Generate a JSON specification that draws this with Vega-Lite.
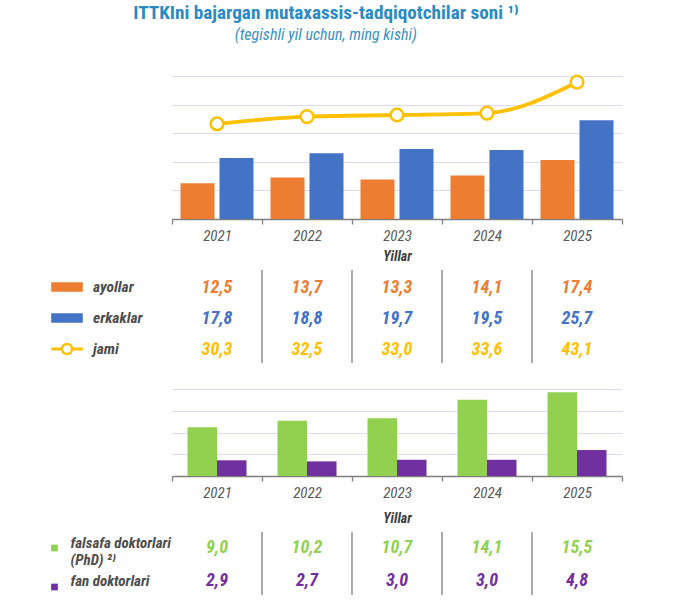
{
  "$schema": "https://vega.github.io/schema/vega-lite/v6.json",
  "padding": {"left": 45, "top": 3, "right": 10, "bottom": 5},
  "title": {
    "text": "ITTKIni bajargan mutaxassis-tadqiqotchilar soni ¹⁾",
    "subtitle": "(tegishli yil uchun, ming kishi)",
    "anchor": "middle",
    "dx": -8,
    "fontSize": 19.2,
    "fontWeight": "bold",
    "color": "#2A8AC6",
    "subtitleFontSize": 16,
    "subtitleFontStyle": "italic",
    "subtitleColor": "#3A8FC8",
    "subtitlePadding": 4,
    "offset": 28
  },
  "datasets": {
    "main": [
      {"year": "2021", "series": "ayollar", "value": 12.5},
      {"year": "2022", "series": "ayollar", "value": 13.7},
      {"year": "2023", "series": "ayollar", "value": 13.3},
      {"year": "2024", "series": "ayollar", "value": 14.1},
      {"year": "2025", "series": "ayollar", "value": 17.4},
      {"year": "2021", "series": "erkaklar", "value": 17.8},
      {"year": "2022", "series": "erkaklar", "value": 18.8},
      {"year": "2023", "series": "erkaklar", "value": 19.7},
      {"year": "2024", "series": "erkaklar", "value": 19.5},
      {"year": "2025", "series": "erkaklar", "value": 25.7},
      {"year": "2021", "series": "jami", "value": 30.3},
      {"year": "2022", "series": "jami", "value": 32.5},
      {"year": "2023", "series": "jami", "value": 33.0},
      {"year": "2024", "series": "jami", "value": 33.6},
      {"year": "2025", "series": "jami", "value": 43.1}
    ],
    "phd": [
      {"year": "2021", "series": "falsafa doktorlari\n(PhD) ²⁾", "value": 9.0},
      {"year": "2022", "series": "falsafa doktorlari\n(PhD) ²⁾", "value": 10.2},
      {"year": "2023", "series": "falsafa doktorlari\n(PhD) ²⁾", "value": 10.7},
      {"year": "2024", "series": "falsafa doktorlari\n(PhD) ²⁾", "value": 14.1},
      {"year": "2025", "series": "falsafa doktorlari\n(PhD) ²⁾", "value": 15.5},
      {"year": "2021", "series": "fan doktorlari", "value": 2.9},
      {"year": "2022", "series": "fan doktorlari", "value": 2.7},
      {"year": "2023", "series": "fan doktorlari", "value": 3.0},
      {"year": "2024", "series": "fan doktorlari", "value": 3.0},
      {"year": "2025", "series": "fan doktorlari", "value": 4.8}
    ]
  },
  "columns": 2,
  "align": "each",
  "spacing": {"row": 6, "column": 0},
  "resolve": {
    "scale": {"x": "independent", "y": "independent", "color": "independent", "xOffset": "independent"},
    "legend": {"color": "independent"}
  },
  "concat": [
    {
      "width": 1, "height": 1,
      "data": {"values": []},
      "mark": "point"
    },
    {
      "width": 450, "height": 143,
      "data": {"name": "main"},
      "encoding": {
        "x": {
          "field": "year", "type": "nominal",
          "scale": {"paddingInner": 0, "paddingOuter": 0},
          "axis": {"title": "Yillar", "labelAngle": 0, "tickBand": "extent", "grid": false}
        }
      },
      "layer": [
        {
          "transform": [{"filter": "datum.series != 'jami'"}],
          "mark": {"type": "bar", "clip": true},
          "encoding": {
            "xOffset": {"field": "series", "type": "nominal", "scale": {"paddingInner": 0.128, "paddingOuter": 0.218}},
            "y": {
              "field": "value", "type": "quantitative",
              "scale": {"domain": [5, 35], "nice": false, "zero": false},
              "axis": {"title": null, "labels": false, "ticks": false, "domain": false, "values": [5, 11, 17, 23, 29, 35]}
            },
            "color": {
              "field": "series", "type": "nominal",
              "scale": {"domain": ["ayollar", "erkaklar"], "range": ["#ED7D31", "#4472C4"]},
              "legend": null
            }
          }
        },
        {
          "transform": [{"filter": "datum.series == 'jami'"}],
          "mark": {
            "type": "line", "color": "#FFC000", "strokeWidth": 3.8, "interpolate": "monotone",
            "point": {"filled": true, "fill": "white", "stroke": "#FFC000", "strokeWidth": 2.5, "size": 160, "opacity": 1}
          },
          "encoding": {
            "y": {
              "field": "value", "type": "quantitative",
              "scale": {"domain": [1, 45], "nice": false, "zero": false},
              "axis": null
            }
          }
        }
      ],
      "resolve": {"scale": {"y": "independent", "color": "independent"}}
    },
    {
      "width": 32, "height": 93,
      "data": {"name": "main"},
      "transform": [{"filter": "datum.year == '2021'"}],
      "encoding": {
        "y": {"field": "series", "type": "nominal", "scale": {"type": "point", "padding": 0.5}, "axis": null}
      },
      "layer": [
        {
          "transform": [{"filter": "datum.series != 'jami'"}],
          "mark": {"type": "point", "shape": "M-1,-0.3H1V0.3H-1Z", "size": 1000, "filled": true, "opacity": 1, "yOffset": 1.5},
          "encoding": {
            "color": {
              "field": "series", "type": "nominal",
              "scale": {"domain": ["ayollar", "erkaklar"], "range": ["#ED7D31", "#4472C4"]},
              "legend": null
            }
          }
        },
        {
          "transform": [{"filter": "datum.series == 'jami'"}],
          "mark": {"type": "point", "shape": "M-1,0H1", "size": 1000, "filled": false, "stroke": "#FFC000", "strokeWidth": 3, "opacity": 1, "yOffset": 1.5}
        },
        {
          "transform": [{"filter": "datum.series == 'jami'"}],
          "mark": {"type": "point", "shape": "circle", "size": 100, "filled": true, "fill": "white", "stroke": "#FFC000", "strokeWidth": 2.5, "opacity": 1, "yOffset": 1.5}
        },
        {
          "mark": {"type": "text", "align": "left", "dx": 26, "yOffset": 1.5, "fontSize": 15.5, "fontWeight": "bold", "fontStyle": "italic", "color": "#4D4D4D"},
          "encoding": {"text": {"field": "series"}}
        }
      ],
      "resolve": {"scale": {"color": "independent"}}
    },
    {
      "width": 450, "height": 93,
      "data": {"name": "main"},
      "encoding": {
        "x": {"field": "year", "type": "nominal", "scale": {"paddingInner": 0, "paddingOuter": 0}, "axis": null}
      },
      "layer": [
        {
          "transform": [{"filter": "datum.series == 'ayollar' && datum.year != '2021'"}],
          "mark": {"type": "rule", "color": "#7F7F7F", "strokeWidth": 1.3},
          "encoding": {"x": {"field": "year", "type": "nominal", "bandPosition": 0}}
        },
        {
          "mark": {"type": "text", "fontSize": 18, "fontWeight": "bold", "fontStyle": "italic", "yOffset": 2.5},
          "encoding": {
            "y": {"field": "series", "type": "nominal", "scale": {"type": "point", "padding": 0.5}, "axis": null},
            "text": {"field": "value", "type": "quantitative", "format": ".1f"},
            "color": {
              "field": "series", "type": "nominal",
              "scale": {"domain": ["ayollar", "erkaklar", "jami"], "range": ["#ED7D31", "#4472C4", "#FFC000"]},
              "legend": null
            }
          }
        }
      ]
    },
    {
      "width": 1, "height": 1,
      "data": {"values": []},
      "mark": "point"
    },
    {
      "width": 450, "height": 106,
      "data": {"name": "phd"},
      "encoding": {
        "x": {
          "field": "year", "type": "nominal",
          "scale": {"paddingInner": 0, "paddingOuter": 0},
          "axis": {"title": "Yillar", "labelAngle": 0, "tickBand": "extent", "grid": false, "titlePadding": 11}
        },
        "xOffset": {"field": "series", "type": "nominal", "scale": {"paddingInner": 0, "paddingOuter": 0.525}},
        "y": {
          "field": "value", "type": "quantitative",
          "scale": {"domain": [0, 19.6], "nice": false},
          "axis": {"title": null, "labels": false, "ticks": false, "domain": false, "values": [0, 4, 8, 12, 16]}
        },
        "color": {
          "field": "series", "type": "nominal",
          "scale": {"domain": ["falsafa doktorlari\n(PhD) ²⁾", "fan doktorlari"], "range": ["#92D050", "#7030A0"]},
          "legend": null
        }
      },
      "mark": {"type": "bar"}
    },
    {
      "width": 7, "height": 63,
      "data": {"name": "phd"},
      "transform": [{"filter": "datum.year == '2021'"}],
      "encoding": {
        "y": {"field": "series", "type": "nominal", "scale": {"type": "point", "padding": 0.308}, "axis": null}
      },
      "layer": [
        {
          "mark": {"type": "point", "shape": "square", "size": 45, "filled": true, "opacity": 1, "yOffset": 4},
          "encoding": {
            "color": {
              "field": "series", "type": "nominal",
              "scale": {"domain": ["falsafa doktorlari\n(PhD) ²⁾", "fan doktorlari"], "range": ["#92D050", "#7030A0"]},
              "legend": null
            }
          }
        },
        {
          "mark": {"type": "text", "align": "left", "dx": 16, "yOffset": -1.5, "lineBreak": "\n", "lineHeight": 17, "fontSize": 15, "fontWeight": "bold", "fontStyle": "italic", "color": "#4D4D4D"},
          "encoding": {"text": {"field": "series"}}
        }
      ]
    },
    {
      "width": 450, "height": 63,
      "data": {"name": "phd"},
      "encoding": {
        "x": {"field": "year", "type": "nominal", "scale": {"paddingInner": 0, "paddingOuter": 0}, "axis": null}
      },
      "layer": [
        {
          "transform": [{"filter": "datum.series == 'fan doktorlari' && datum.year != '2021'"}],
          "mark": {"type": "rule", "color": "#7F7F7F", "strokeWidth": 1.3},
          "encoding": {"x": {"field": "year", "type": "nominal", "bandPosition": 0}}
        },
        {
          "mark": {"type": "text", "fontSize": 18, "fontWeight": "bold", "fontStyle": "italic", "yOffset": 1},
          "encoding": {
            "y": {"field": "series", "type": "nominal", "scale": {"type": "point", "padding": 0.469}, "axis": null},
            "text": {"field": "value", "type": "quantitative", "format": ".1f"},
            "color": {
              "field": "series", "type": "nominal",
              "scale": {"domain": ["falsafa doktorlari\n(PhD) ²⁾", "fan doktorlari"], "range": ["#92D050", "#7030A0"]},
              "legend": null
            }
          }
        }
      ]
    }
  ],
  "config": {
    "font": "Roboto Condensed, Liberation Sans Narrow, Roboto, sans-serif",
    "view": {"stroke": null},
    "locale": {"number": {"decimal": ",", "thousands": " ", "grouping": [3], "currency": ["", ""]}},
    "axisX": {
      "labelFontSize": 15, "labelFontStyle": "italic", "labelColor": "#595959", "labelPadding": 4,
      "titleFontSize": 14, "titleFontStyle": "italic", "titleFontWeight": "bold", "titleColor": "#404040", "titlePadding": 6,
      "domainColor": "#7F7F7F", "domainWidth": 1.5, "tickColor": "#7F7F7F", "tickSize": 5, "tickWidth": 1.3
    },
    "axisY": {"gridColor": "#DADAF2", "gridWidth": 1.2}
  }
}
